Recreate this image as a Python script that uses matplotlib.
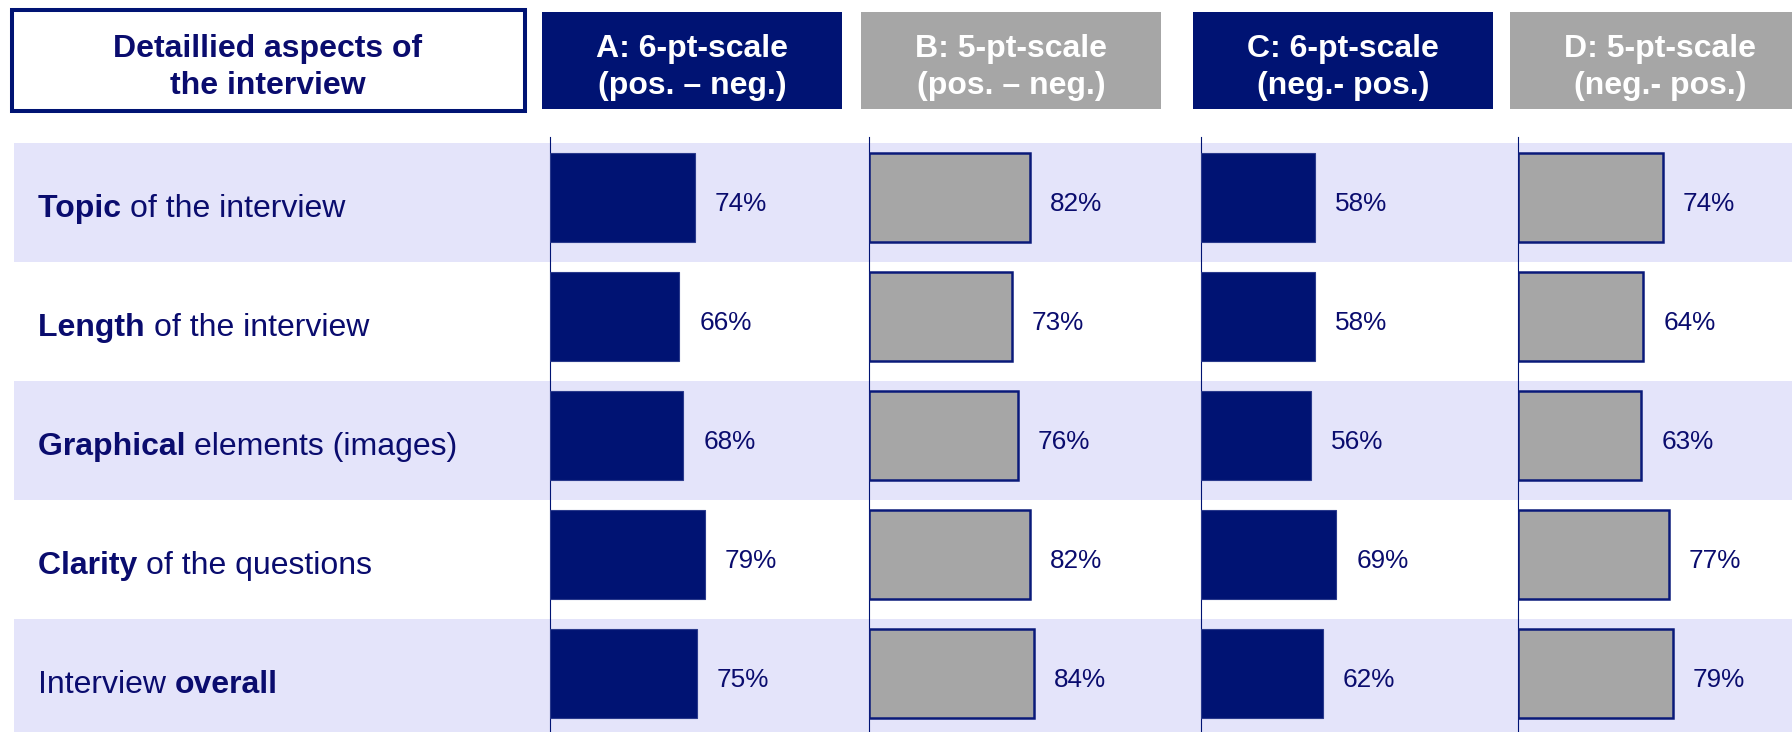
import matplotlib
matplotlib.use("Agg")
import matplotlib.pyplot as plt
from matplotlib.patches import Rectangle
import numpy as np

plt.rcParams['font.family'] = ['Liberation Sans', 'DejaVu Sans']

# ---- data -------------------------------------------------------------
aspect_bold = ["Topic", "Length", "Graphical", "Clarity", "overall"]
aspect_rest = ["of the interview", "of the interview", "elements (images)",
               "of the questions", "Interview"]
bold_first = [True, True, True, True, False]

group_titles = ["A: 6-pt-scale\n(pos. – neg.)", "B: 5-pt-scale\n(pos. – neg.)",
                "C: 6-pt-scale\n(neg.- pos.)", "D: 5-pt-scale\n(neg.- pos.)"]
scale_a = [74, 66, 68, 79, 75]
scale_b = [82, 73, 76, 82, 84]
scale_c = [58, 58, 56, 69, 62]
scale_d = [74, 64, 63, 77, 79]
header_title = "Detaillied aspects of\nthe interview"

# ---- style ------------------------------------------------------------
NAVY = "#001373"
TEXT = "#0A0C6E"
GREY = "#A6A6A6"
BAND = "#E4E4FA"
W, H = 1792, 732
px_per_pct = 1.96
row_top, row_h = 142.7, 119.0
head_base = 57

fig = plt.figure(figsize=(W / 100, H / 100), dpi=100)
bg = fig.add_axes([0, 0, 1, 1])
bg.set_xlim(0, W)
bg.set_ylim(H, 0)
bg.axis("off")

n_rows = len(aspect_bold)
for i in range(n_rows):
    if i % 2 == 0:
        bg.add_patch(Rectangle((14, row_top + i * row_h), W - 14, row_h,
                               facecolor=BAND, edgecolor="none", zorder=0))

# left header box
bg.add_patch(Rectangle((12, 10), 513, 101, facecolor="white",
                       edgecolor=NAVY, lw=2.9, zorder=1))
for k, line in enumerate(header_title.split("\n")):
    bg.text(268, head_base + 37 * k, line, ha="center", va="baseline",
            fontsize=23, fontweight="bold", color=TEXT, zorder=2)

# row labels with mixed weight
fs_label = 23
for i in range(n_rows):
    yb = row_top + i * row_h + row_h / 2 + 15
    parts = [(aspect_bold[i], "bold"), (aspect_rest[i], "normal")]
    if not bold_first[i]:
        parts = parts[::-1]
    first = bg.text(38, yb, parts[0][0] + " ", ha="left", va="baseline",
                    fontsize=fs_label, fontweight=parts[0][1], color=TEXT,
                    zorder=2)
    bg.annotate(parts[1][0], xy=(1, 0), xycoords=first, ha="left",
                va="bottom", fontsize=fs_label, fontweight=parts[1][1],
                color=TEXT, zorder=2)

# ---- bar panels -------------------------------------------------------
series = [scale_a, scale_b, scale_c, scale_d]
box_left = [542, 861, 1193, 1510]
panel_w = 290
line_top = 137.0
for g, (vals, title) in enumerate(zip(series, group_titles)):
    dark = g % 2 == 0
    fill = NAVY if dark else GREY
    # header box
    bg.add_patch(Rectangle((box_left[g], 12), 300, 97, facecolor=fill,
                           edgecolor="none", zorder=1))
    for k, line in enumerate(title.split("\n")):
        bg.text(box_left[g] + 150, head_base + 37 * k, line, ha="center",
                va="baseline", fontsize=23, fontweight="bold",
                color="white", zorder=2)

    x0 = box_left[g] + 8
    bottom = row_top + n_rows * row_h
    ax = fig.add_axes([x0 / W, 1 - bottom / H, panel_w / W,
                       (bottom - line_top) / H])
    ax.patch.set_visible(False)
    ax.set_xlim(0, panel_w / px_per_pct)
    ax.set_ylim(n_rows, -(row_top - line_top) / row_h)
    for s in ("top", "right", "bottom"):
        ax.spines[s].set_visible(False)
    ax.spines["left"].set_color(NAVY)
    ax.spines["left"].set_linewidth(0.8)
    ax.set_xticks([])
    ax.set_yticks([])

    yc = np.arange(n_rows) + 0.5 - 4.5 / row_h
    if dark:
        ax.barh(yc, vals, height=0.75, color=NAVY, edgecolor="#2A3A8C",
                linewidth=0.8, zorder=3)
    else:
        ax.barh(yc, vals, height=0.75, color=GREY, edgecolor="#0A1A7A",
                linewidth=1.8, zorder=3)
    for y, v in zip(yc, vals):
        ax.text(v + 20 / px_per_pct, y + 13.5 / row_h, f"{v}%", ha="left",
                va="baseline", fontsize=18.8, color=TEXT, zorder=4)

fig.savefig("out.png", dpi=100)
